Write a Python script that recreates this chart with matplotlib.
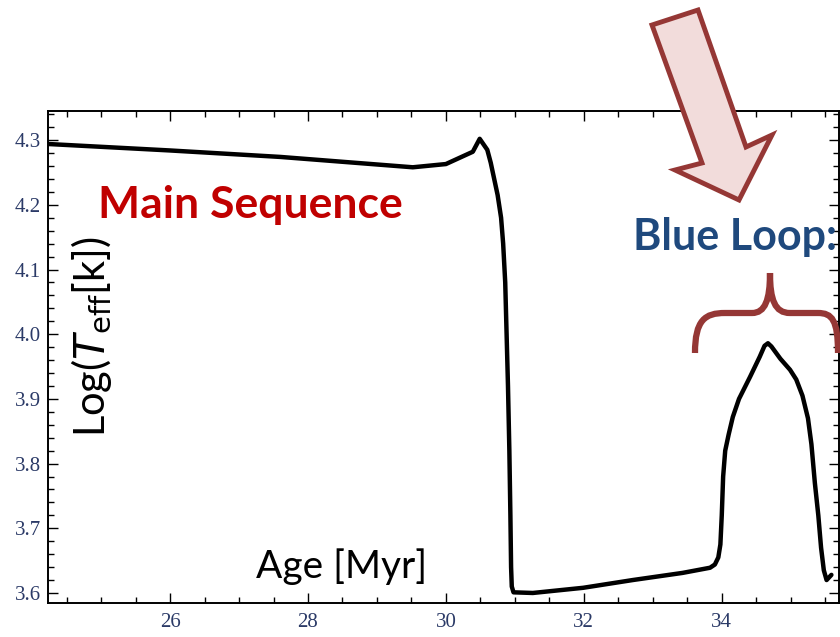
import matplotlib.pyplot as plt
from matplotlib.patches import Polygon, PathPatch
from matplotlib.path import Path
from matplotlib.ticker import MultipleLocator

# evolutionary track: effective temperature vs age
age = [24.23, 26.0, 27.6, 29.52, 30.0, 30.39, 30.49, 30.6, 30.65, 30.7,
       30.75, 30.8, 30.83, 30.86, 30.88, 30.9, 30.92, 30.935, 30.945, 30.955,
       30.98, 31.26, 31.99, 32.71, 33.43, 33.83, 33.9, 33.95, 33.98, 34.0,
       34.02, 34.05, 34.1, 34.16, 34.25, 34.41, 34.55, 34.62, 34.67, 34.72,
       34.85, 34.99, 35.08, 35.17, 35.25, 35.3, 35.35, 35.4, 35.44, 35.48,
       35.52, 35.59]
log_teff = [4.294, 4.284, 4.274, 4.258, 4.263, 4.282, 4.302, 4.285, 4.265, 4.24,
            4.215, 4.18, 4.14, 4.08, 4.0, 3.92, 3.82, 3.72, 3.64, 3.61,
            3.601, 3.600, 3.608, 3.620, 3.631, 3.639, 3.644, 3.655, 3.675, 3.72,
            3.78, 3.82, 3.845, 3.872, 3.90, 3.934, 3.965, 3.982, 3.986, 3.981,
            3.962, 3.945, 3.93, 3.905, 3.87, 3.83, 3.77, 3.72, 3.67, 3.635,
            3.62, 3.628]

W, H = 840, 637
fig = plt.figure(figsize=(W / 100, H / 100), dpi=100)
ax = fig.add_axes([48 / W, 1 - 603 / H, (839 - 48) / W, (603 - 111) / H])

ax.plot(age, log_teff, color='black', lw=3.2, solid_joinstyle='round', solid_capstyle='round')
ax.set_xlim(24.23, 35.7)
ax.set_ylim(3.5845, 4.345)

ax.xaxis.set_major_locator(MultipleLocator(2))
ax.xaxis.set_minor_locator(MultipleLocator(0.5))
ax.yaxis.set_major_locator(MultipleLocator(0.1))
ax.yaxis.set_minor_locator(MultipleLocator(0.02))
ax.tick_params(which='both', direction='in', top=True, right=True, width=1, color='black')
ax.tick_params(which='major', length=7)
ax.tick_params(which='minor', length=4)
ax.tick_params(axis='x', pad=7)
ax.tick_params(axis='y', pad=5)
for lab in ax.get_xticklabels() + ax.get_yticklabels():
    lab.set_family('Liberation Serif')
    lab.set_fontsize(15)
    lab.set_color('#2b3a67')
for s in ax.spines.values():
    s.set_linewidth(1.4)

# labels placed inside the frame
fig.text(250 / W, 1 - 205 / H, 'Main Sequence', ha='center', va='center',
         family='Lato', weight='bold', fontsize=32, color='#c00000')
fig.text(633 / W, 1 - 237 / H, 'Blue Loop:', ha='left', va='center',
         family='Lato', weight='bold', fontsize=31, color='#1f497d')
fig.text(342 / W, 1 - 567 / H, 'Age [Myr]', ha='center', va='center',
         family='Lato', fontsize=28, color='black')
fig.text(92 / W, 1 - 337 / H, r'Log($\mathit{T}_{\mathrm{eff}}$[k])',
         ha='center', va='center', rotation=90, family='Lato', fontsize=30, color='black')


def fpt(px, py):
    return (px / W, 1 - py / H)


# block arrow pointing at the loop
arrow_px = [(652, 25), (698, 10), (746, 147), (772, 135), (739, 200), (675, 170), (702, 163)]
fig.patches.append(Polygon([fpt(*p) for p in arrow_px], closed=True, transform=fig.transFigure,
                           facecolor='#f2dcdb', edgecolor='#953735', lw=3.5, joinstyle='miter'))

# curly brace over the loop
verts = [(695, 353), (695, 320), (705, 313), (725, 313),
         (752, 313),
         (765, 313), (770, 300), (770, 273),
         (770, 300), (775, 313), (790, 313),
         (818, 313),
         (832, 313), (838, 320), (838, 353)]
codes = [Path.MOVETO, Path.CURVE4, Path.CURVE4, Path.CURVE4,
         Path.LINETO,
         Path.CURVE4, Path.CURVE4, Path.CURVE4,
         Path.CURVE4, Path.CURVE4, Path.CURVE4,
         Path.LINETO,
         Path.CURVE4, Path.CURVE4, Path.CURVE4]
brace = Path([fpt(*v) for v in verts], codes)
fig.patches.append(PathPatch(brace, transform=fig.transFigure, facecolor='none',
                             edgecolor='#953735', lw=4.5, capstyle='butt'))

fig.savefig('out.png', dpi=100)
